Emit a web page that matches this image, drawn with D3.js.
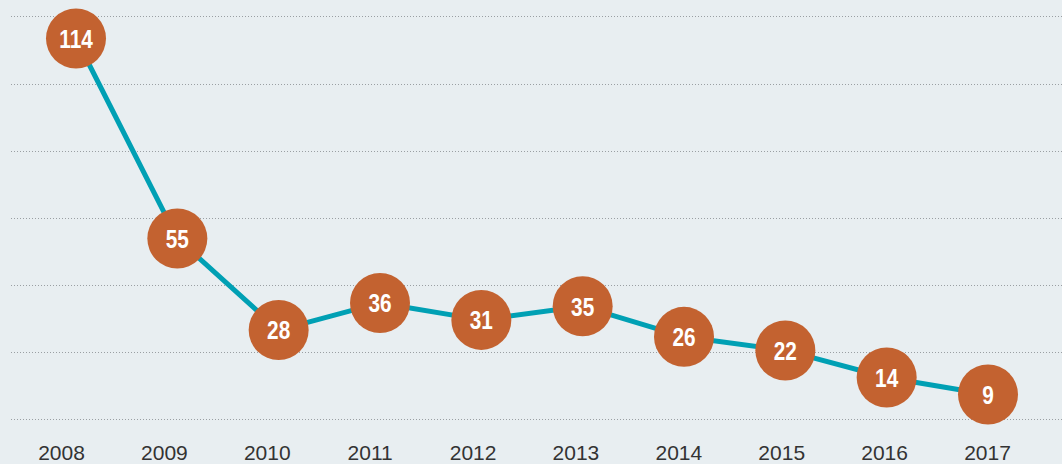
<!DOCTYPE html>
<html>
<head>
<meta charset="utf-8">
<script src="https://cdn.jsdelivr.net/npm/d3@7"></script>
<style>
  body { margin: 0; background: #e8eef1; }
  #chart { width: 1062px; height: 464px; }
</style>
</head>
<body>
<div id="chart"></div>
<script>
// years along the x axis
var years = ["2008", "2009", "2010", "2011", "2012", "2013", "2014", "2015", "2016", "2017"];

// value shown in each circle
var values = [114, 55, 28, 36, 31, 35, 26, 22, 14, 9];

// dotted gridline levels (in value units)
var gridValues = [1.7, 21.5, 41.3, 61.1, 80.9, 100.7, 120.5];

var width = 1062;
var height = 464;

var svg = d3.select("#chart")
  .append("svg")
  .attr("width", width)
  .attr("height", height);

// background
svg.append("rect")
  .attr("width", width)
  .attr("height", height)
  .attr("fill", "#e8eef1");

// x scale: one point per year (for the marks)
var xScale = d3.scalePoint()
  .domain(years)
  .range([76, 988]);

// labels sit on a slightly wider spread than the circles
var xLabelScale = d3.scalePoint()
  .domain(years)
  .range([61, 987]);

// y scale
var yScale = d3.scaleLinear()
  .domain([0, 114])
  .range([425, 38.5]);

// gridlines
svg.append("g")
  .attr("class", "grid")
  .selectAll("line")
  .data(gridValues)
  .enter()
  .append("line")
  .attr("x1", 11)
  .attr("x2", width)
  .attr("y1", function(d) { return Math.round(yScale(d)) + 0.5; })
  .attr("y2", function(d) { return Math.round(yScale(d)) + 0.5; })
  .attr("stroke", "#9a9fa3")
  .attr("stroke-width", 1)
  .attr("stroke-dasharray", "1,2");

// x axis labels
var xAxis = d3.axisBottom(xLabelScale)
  .tickSize(0)
  .tickPadding(0);

var xg = svg.append("g")
  .attr("class", "x axis")
  .attr("transform", "translate(0, 460)")
  .call(xAxis);

xg.select(".domain").remove();
xg.selectAll("text")
  .attr("dy", "0")
  .attr("y", 0)
  .style("font-family", "'Liberation Sans', Arial, sans-serif")
  .style("font-size", "21px")
  .style("fill", "#333333");

// line through the points
var line = d3.line()
  .x(function(d, i) { return xScale(years[i]); })
  .y(function(d) { return yScale(d); });

svg.append("path")
  .datum(values)
  .attr("d", line)
  .attr("fill", "none")
  .attr("stroke", "#00a0b4")
  .attr("stroke-width", 5)
  .attr("stroke-linejoin", "round");

// circles with the values
var points = svg.selectAll(".point")
  .data(values)
  .enter()
  .append("g")
  .attr("class", "point")
  .attr("transform", function(d, i) {
    return "translate(" + xScale(years[i]) + "," + yScale(d) + ")";
  });

points.append("circle")
  .attr("r", 30)
  .attr("fill", "#c36230");

// condensed bold numbers (squeezed horizontally)
points.append("text")
  .attr("text-anchor", "middle")
  .attr("dy", "0.36em")
  .attr("transform", "scale(0.8,1)")
  .style("font-family", "'Liberation Sans', Arial, sans-serif")
  .style("font-weight", "bold")
  .style("font-size", "26px")
  .style("fill", "#ffffff")
  .text(function(d) { return d; });
</script>
</body>
</html>
